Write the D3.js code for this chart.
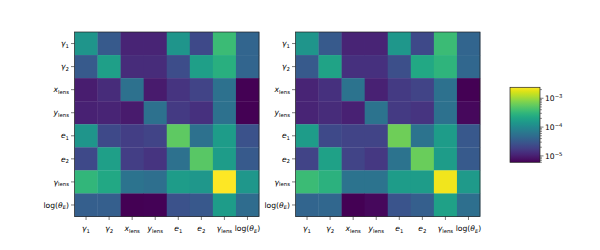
<!DOCTYPE html>
<html><head><meta charset="utf-8">
<script src="https://cdn.jsdelivr.net/npm/d3@7"></script>
<style>body{margin:0;background:#fff}svg{display:block}text{font-family:"DejaVu Sans";fill:#000}</style>
</head><body><svg id="c" width="600" height="250"></svg>
<script>
// labels: [base, subscript]
const labels = [
  ["γ","1"],["γ","2"],["x","lens"],["y","lens"],["e","1"],["e","2"],["γ","lens"],["logθ","E"]
];
const vmin = 6.0e-6, vmax = 2.4e-3;
const leftMatrix = [
  [1.35e-4,3.22e-5,1.1e-5,1.1e-5,1.35e-4,2.25e-5,3.53e-4,4.09e-5],
  [3.22e-5,1.72e-4,1.24e-5,1.24e-5,2.39e-5,1.72e-4,2.62e-4,4.09e-5],
  [9.7e-6,1.24e-5,5.52e-5,9.2e-6,1.48e-5,2.0e-5,5.52e-5,6.0e-6],
  [1.03e-5,1.1e-5,9.2e-6,5.52e-5,1.67e-5,1.39e-5,5.52e-5,6.0e-6],
  [1.35e-4,2.25e-5,1.77e-5,2.0e-5,5.37e-4,5.52e-5,1.62e-4,2.69e-5],
  [2.25e-5,1.72e-4,1.77e-5,1.48e-5,5.52e-5,5.06e-4,1.62e-4,3.22e-5],
  [3.13e-4,2.19e-4,5.86e-5,5.2e-5,1.62e-4,1.44e-4,2.4e-3,1.44e-4],
  [3.63e-5,3.63e-5,6.0e-6,6.2e-6,2.69e-5,3.03e-5,1.62e-4,4.9e-5]
];
const rightMatrix = [
  [1.35e-4,3.22e-5,1.1e-5,1.1e-5,1.44e-4,2.25e-5,3.53e-4,4.09e-5],
  [3.22e-5,1.94e-4,1.39e-5,1.39e-5,2.54e-5,2.19e-4,2.95e-4,4.35e-5],
  [1.1e-5,1.39e-5,5.86e-5,1.03e-5,1.67e-5,2.0e-5,5.52e-5,6.0e-6],
  [1.1e-5,1.24e-5,1.03e-5,5.86e-5,1.67e-5,1.48e-5,5.52e-5,6.8e-6],
  [1.62e-4,2.25e-5,2.0e-5,2.0e-5,6.43e-4,5.86e-5,1.62e-4,3.03e-5],
  [2.0e-5,1.83e-4,2.0e-5,1.57e-5,5.86e-5,6.05e-4,1.62e-4,3.22e-5],
  [3.53e-4,2.78e-4,5.86e-5,5.86e-5,1.62e-4,1.62e-4,2.13e-3,1.53e-4],
  [4.09e-5,4.35e-5,6.0e-6,6.8e-6,2.86e-5,3.63e-5,1.83e-4,5.2e-5]
];
const cbTicks = [1e-5, 1e-4, 1e-3];

const svg = d3.select("#c");
const color = d3.scaleSequentialLog(d3.interpolateViridis).domain([vmin, vmax]).clamp(true);
const FS = 7.6;

function writeLabel(sel, lab) {
  const [base, sub] = lab;
  if (base === "logθ") {
    sel.append("tspan").text("log(");
    sel.append("tspan").attr("font-style","italic").text("θ");
    sel.append("tspan").attr("font-style","italic").attr("font-size",FS*0.7).attr("dy",FS*0.22).text(sub);
    sel.append("tspan").attr("dy",-FS*0.22).text(")");
  } else {
    sel.append("tspan").attr("font-style","italic").text(base);
    sel.append("tspan").attr("font-style", "normal").attr("font-size",FS*0.7).attr("dy",FS*0.22).text(sub);
  }
}

function heatmap(x0, y0, size, matrix) {
  const g = svg.append("g").attr("transform",`translate(${x0},${y0})`);
  const band = d3.scaleBand().domain(d3.range(labels.length)).range([0,size]);
  matrix.forEach((row,i)=>row.forEach((v,j)=>{
    g.append("rect").attr("x",band(j)).attr("y",band(i))
      .attr("width",band.bandwidth()+0.3).attr("height",band.bandwidth()+0.3)
      .attr("fill",color(v));
  }));
  g.append("rect").attr("width",size).attr("height",size).attr("fill","none").attr("stroke","#222").attr("stroke-width",0.7);
  labels.forEach((lab,i)=>{
    const y = band(i)+band.bandwidth()/2;
    g.append("line").attr("x1",-3.5).attr("x2",0).attr("y1",y).attr("y2",y).attr("stroke","#222").attr("stroke-width",0.6);
    const t = g.append("text").attr("x",-5.5).attr("y",y).attr("dy","0.35em").attr("text-anchor","end").attr("font-size",FS);
    writeLabel(t, lab);
  });
  labels.forEach((lab,j)=>{
    const x = band(j)+band.bandwidth()/2;
    g.append("line").attr("x1",x).attr("x2",x).attr("y1",size).attr("y2",size+3.5).attr("stroke","#222").attr("stroke-width",0.6);
    const t = g.append("text").attr("x",x).attr("y",size+14.5).attr("text-anchor","middle").attr("font-size",FS);
    writeLabel(t, lab);
  });
}

heatmap(74.5, 32, 184.5, leftMatrix);
heatmap(295.5, 32, 184.5, rightMatrix);

// colorbar
const cbX = 510, cbW = 30, cbTop = 87.3, cbBot = 162.3;
const cbScale = d3.scaleLog().domain([vmin, vmax]).range([cbBot, cbTop]);
const defs = svg.append("defs");
const grad = defs.append("linearGradient").attr("id","cbg").attr("x1",0).attr("y1",1).attr("x2",0).attr("y2",0);
d3.range(0,1.0001,0.02).forEach(t=>grad.append("stop").attr("offset",t).attr("stop-color",d3.interpolateViridis(t)));
svg.append("rect").attr("x",cbX).attr("y",cbTop).attr("width",cbW).attr("height",cbBot-cbTop).attr("fill","url(#cbg)");
svg.append("rect").attr("x",cbX).attr("y",cbTop).attr("width",cbW).attr("height",cbBot-cbTop).attr("fill","none").attr("stroke","#222").attr("stroke-width",0.7);
const minor = [];
[1e-6,1e-5,1e-4,1e-3].forEach(d=>d3.range(2,10).forEach(k=>{const v=d*k; if(v>=vmin&&v<=vmax) minor.push(v);}));
minor.forEach(v=>{
  const y=cbScale(v);
  svg.append("line").attr("x1",cbX+cbW).attr("x2",cbX+cbW+2).attr("y1",y).attr("y2",y).attr("stroke","#222").attr("stroke-width",0.5);
});
cbTicks.forEach(v=>{
  const y=cbScale(v);
  svg.append("line").attr("x1",cbX+cbW).attr("x2",cbX+cbW+3.5).attr("y1",y).attr("y2",y).attr("stroke","#222").attr("stroke-width",0.6);
  const t = svg.append("text").attr("x",cbX+cbW+5).attr("y",y).attr("dy","0.35em").attr("font-size",FS);
  t.append("tspan").text("10");
  t.append("tspan").attr("font-size",FS*0.7).attr("dy",-FS*0.4).text("−"+Math.round(-Math.log10(v)));
});
</script></body></html>
